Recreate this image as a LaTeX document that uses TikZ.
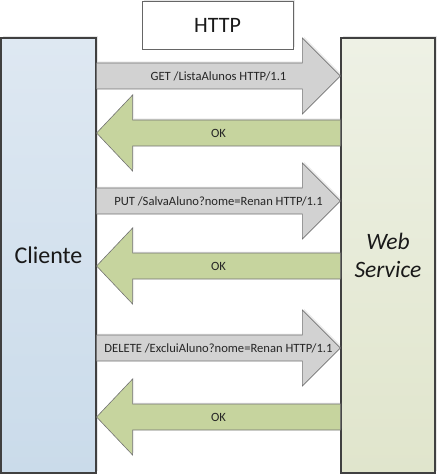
\documentclass[tikz,border=0pt]{standalone}
\usepackage{fontspec}
\setmainfont{Carlito}
\usetikzlibrary{calc}
\usetikzlibrary{positioning}
\usetikzlibrary{shadows}

\definecolor{cliblue}{HTML}{DEE8F2}
\definecolor{cliblue2}{HTML}{CADBEA}
\definecolor{wsgreen}{HTML}{EEF1E5}
\definecolor{wsgreen2}{HTML}{E0E5CC}
\definecolor{reqgray}{HTML}{D2D2D2}
\definecolor{resgreen}{HTML}{C6D49E}
\definecolor{edgegray}{HTML}{404040}

\tikzset{
  box/.style={draw=edgegray, line width=1.2pt, inner sep=0pt,
    drop shadow={shadow xshift=2pt, shadow yshift=2pt, opacity=0.2}},
  req/.style={fill=reqgray, draw=black!55, line width=0.6pt,
    drop shadow={shadow xshift=1.5pt, shadow yshift=1.5pt, opacity=0.15}},
  res/.style={fill=resgreen, draw=black!55, line width=0.6pt,
    drop shadow={shadow xshift=1.5pt, shadow yshift=1.5pt, opacity=0.15}},
  lbl/.style={font=\fontsize{12.6}{15}\selectfont, text=black!85},
}

% block arrow client -> web service at height #1
\newcommand{\reqarrow}[3]{%
  \coordinate (#2s) at (cli.east |- 0,#1);
  \coordinate (#2t) at (ws.west |- 0,#1);
  \draw[req] ($(#2s)+(0,-13)$) -- ($(#2t)+(-38,-13)$) -- ($(#2t)+(-38,-38)$)
    -- (#2t) -- ($(#2t)+(-38,38)$) -- ($(#2t)+(-38,13)$) -- ($(#2s)+(0,13)$) -- cycle;
  \node[lbl] (#2) at ($(#2s)!0.5!(#2t)$) {#3};
}
% block arrow web service -> client at height #1
\newcommand{\resarrow}[3]{%
  \coordinate (#2s) at (ws.west |- 0,#1);
  \coordinate (#2t) at (cli.east |- 0,#1);
  \draw[res] ($(#2s)+(0,-13)$) -- ($(#2t)+(36,-13)$) -- ($(#2t)+(36,-38)$)
    -- (#2t) -- ($(#2t)+(36,38)$) -- ($(#2t)+(36,13)$) -- ($(#2s)+(0,13)$) -- cycle;
  \node[lbl] (#2) at ($(#2s)!0.5!(#2t)$) {#3};
}

\begin{document}
\begin{tikzpicture}[x=1pt, y=-1pt]
\useasboundingbox (0,0) rectangle (438,476);

% the two sides
\node[box, top color=cliblue, bottom color=cliblue2,
  minimum width=95pt, minimum height=435pt] (cli) at (48.5,255.5) {};
\node[box, top color=wsgreen, bottom color=wsgreen2,
  minimum width=94pt, minimum height=435pt] (ws) at (388,255.5) {};
\node[font=\fontsize{24}{28}\selectfont, text=black!90] (clitext) at (cli.center) {Cliente};
\node[font=\fontsize{23.5}{28}\selectfont\itshape, text=black!90, align=center]
  (wstext) at (ws.center) {Web\\Service};

% protocol
\node[box, draw=black!60, line width=0.8pt, fill=white, minimum width=151pt, minimum height=48pt,
  font=\fontsize{22}{26}\selectfont, text=black!90] (http) at (217.5,25) {HTTP};

% messages
\reqarrow{76}{get}{GET /ListaAlunos HTTP/1.1}
\resarrow{133}{ok1}{OK}
\reqarrow{201}{put}{PUT /SalvaAluno?nome=Renan HTTP/1.1}
\resarrow{266}{ok2}{OK}
\reqarrow{348}{del}{DELETE /ExcluiAluno?nome=Renan HTTP/1.1}
\resarrow{417}{ok3}{OK}

\end{tikzpicture}
\end{document}
